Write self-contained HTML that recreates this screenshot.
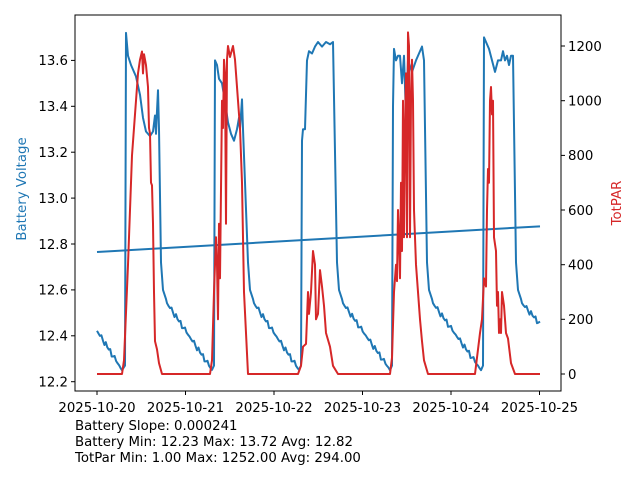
<!DOCTYPE html>
<html><head><meta charset="utf-8"><style>
body{margin:0;background:#fff}
svg{display:block;font-family:"DejaVu Sans","Liberation Sans",sans-serif}
</style></head><body>
<svg id="s" width="640" height="480" xmlns="http://www.w3.org/2000/svg">
<rect width="640" height="480" fill="#fff"/>
<g id="plot"></g>
<rect x="75" y="15" width="486" height="376" fill="none" stroke="#000" stroke-width="1"/>
<g font-size="13.3" fill="#000">
<g stroke="#000">
<line x1="97" y1="391" x2="97" y2="395"/><line x1="185.5" y1="391" x2="185.5" y2="395"/><line x1="274" y1="391" x2="274" y2="395"/><line x1="362.5" y1="391" x2="362.5" y2="395"/><line x1="451" y1="391" x2="451" y2="395"/><line x1="539.5" y1="391" x2="539.5" y2="395"/>
<line x1="71" y1="381.7" x2="75" y2="381.7"/><line x1="71" y1="335.8" x2="75" y2="335.8"/><line x1="71" y1="289.9" x2="75" y2="289.9"/><line x1="71" y1="244" x2="75" y2="244"/><line x1="71" y1="198.1" x2="75" y2="198.1"/><line x1="71" y1="152.2" x2="75" y2="152.2"/><line x1="71" y1="106.3" x2="75" y2="106.3"/><line x1="71" y1="60.4" x2="75" y2="60.4"/>
<line x1="561" y1="374" x2="565" y2="374"/><line x1="561" y1="319.3" x2="565" y2="319.3"/><line x1="561" y1="264.7" x2="565" y2="264.7"/><line x1="561" y1="210" x2="565" y2="210"/><line x1="561" y1="155.4" x2="565" y2="155.4"/><line x1="561" y1="100.7" x2="565" y2="100.7"/><line x1="561" y1="46" x2="565" y2="46"/>
</g>
<g text-anchor="middle">
<text x="97" y="412">2025-10-20</text><text x="185.5" y="412">2025-10-21</text><text x="274" y="412">2025-10-22</text><text x="362.5" y="412">2025-10-23</text><text x="451" y="412">2025-10-24</text><text x="539.5" y="412">2025-10-25</text>
</g>
<g text-anchor="end">
<text x="68" y="386.5">12.2</text><text x="68" y="340.6">12.4</text><text x="68" y="294.7">12.6</text><text x="68" y="248.8">12.8</text><text x="68" y="202.9">13.0</text><text x="68" y="157">13.2</text><text x="68" y="111.1">13.4</text><text x="68" y="65.2">13.6</text>
</g>
<g>
<text x="568" y="378.8">0</text><text x="568" y="324.1">200</text><text x="568" y="269.5">400</text><text x="568" y="214.8">600</text><text x="568" y="160.2">800</text><text x="568" y="105.5">1000</text><text x="568" y="50.8">1200</text>
</g>
<text transform="translate(26,189) rotate(-90)" text-anchor="middle" fill="#1f77b4">Battery Voltage</text>
<text transform="translate(621,203) rotate(-90)" text-anchor="middle" fill="#d62728">TotPAR</text>
<text x="75" y="430">Battery Slope: 0.000241</text>
<text x="75" y="446">Battery Min: 12.23 Max: 13.72 Avg: 12.82</text>
<text x="75" y="462">TotPar Min: 1.00 Max: 1252.00 Avg: 294.00</text>
</g>
</svg>
<script>
var vy=v=>381.7-(v-12.2)*229.5, py=p=>374-p*0.2733;
var B=[[97,12.42]];
var jumps=[126,215,302,393,484], drops=[159,246,335,425,514];
var peaks=[
 [[126,13.72],[128,13.62],[131,13.58],[136,13.53],[140,13.45],[143,13.35],[146,13.29],[150,13.27],[153,13.29],[155,13.36],[156,13.28],[157,13.38],[158,13.47],[159,13.3]],
 [[215,13.6],[217,13.58],[219,13.52],[222,13.5],[225,13.42],[228,13.33],[231,13.28],[234,13.25],[237,13.3],[239,13.35],[240,13.3],[242,13.43],[243,13.3]],
 [[302,13.25],[303,13.3],[305,13.3],[307,13.6],[309,13.64],[312,13.63],[315,13.66],[318,13.68],[322,13.66],[326,13.68],[330,13.67],[333,13.68]],
 [[393,13.4],[394,13.65],[396,13.6],[398,13.62],[400,13.62],[402,13.5],[404,13.62],[406,13.35],[408,13.6],[412,13.55],[416,13.6],[419,13.63],[422,13.66],[424,13.6]],
 [[484,13.7],[486,13.68],[489,13.65],[492,13.6],[495,13.55],[498,13.6],[501,13.6],[503,13.64],[505,13.6],[507,13.62],[509,13.58],[511,13.62],[513,13.62]]];
var bt='M';
var pts=[];
function decline(x0,v0,x1,v1){var n=Math.round((x1-x0)/1.5);for(var i=0;i<=n;i++){var x=x0+(x1-x0)*i/n;var v=v0+(v1-v0)*i/n+(i%3==0?0.012:0)-(i%5==0?0.01:0);pts.push([x,v]);}}
decline(97,12.42,122,12.25);
for(var k=0;k<5;k++){
 pts.push([jumps[k]-1,12.27]);
 peaks[k].forEach(p=>pts.push(p));
 var d=drops[k];
 pts.push([d+2,12.72],[d+4,12.6],[d+7,12.56]);
 var end=k<4?jumps[k+1]-3:540;
 decline(d+8,12.54,end,k<4?12.25:12.45);
}
var b=pts.map((p,i)=>(i?'L':'M')+p[0].toFixed(1)+','+vy(p[1]).toFixed(1)).join('');
var R=[[97,0],[122,0],[124,50],[128,400],[132,800],[136,1000],[138,1100],[140,1150],[142,1180],[143,1100],[144,1170],[146,1130],[148,1050],[149,900],[150,880],[151,700],[152,690],[153,550],[154,300],[155,120],[157,90],[159,40],[162,0],[210,0],[212,50],[214,300],[216,500],[217,400],[218,200],[219,550],[220,350],[222,1000],[223,900],[224,1150],[225,1100],[226,550],[227,1150],[228,1200],[230,1160],[233,1200],[235,1150],[237,1050],[240,900],[242,700],[244,300],[246,150],[248,0],[298,0],[301,30],[303,100],[306,110],[308,300],[309,220],[311,300],[313,450],[315,400],[316,200],[318,220],[320,380],[322,320],[324,250],[326,150],[330,100],[333,30],[338,0],[390,0],[392,60],[394,300],[396,400],[397,340],[398,600],[399,500],[400,350],[401,700],[402,450],[403,1000],[404,500],[405,900],[406,1100],[407,500],[408,1250],[409,1200],[410,500],[411,1000],[412,1150],[413,1000],[414,600],[416,400],[418,300],[420,200],[422,120],[424,50],[428,0],[475,0],[477,60],[480,150],[482,200],[484,350],[486,320],[487,600],[488,750],[489,700],[490,1000],[491,1050],[492,950],[493,1000],[494,500],[496,450],[497,250],[498,300],[499,150],[500,200],[501,150],[502,300],[504,250],[506,150],[508,130],[511,40],[515,0],[540,0]];
var r=R.map((p,i)=>(i?'L':'M')+p[0]+','+py(p[1]).toFixed(1)).join('');
document.getElementById('plot').innerHTML=
 '<path d="'+b+'" fill="none" stroke="#1f77b4" stroke-width="2" stroke-linejoin="round"/>'+
 '<line x1="97" y1="'+vy(12.765)+'" x2="540" y2="'+vy(12.877)+'" stroke="#1f77b4" stroke-width="2"/>'+
 '<path d="'+r+'" fill="none" stroke="#d62728" stroke-width="2" stroke-linejoin="round"/>';
</script>
</body></html>
